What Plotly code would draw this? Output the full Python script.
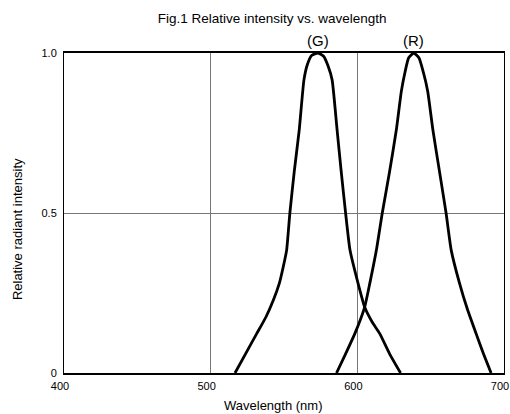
import plotly.graph_objects as go

# Curva (G)
g_wavelength = [516.6, 525, 531.4, 537.7, 542.7, 546.8, 549.5, 551.8, 554, 557, 560.4, 563.6,
                566, 569, 573, 577, 580, 582.8, 586.2, 589, 592, 595, 600.5, 605, 610, 615.3,
                622, 629.5]
g_intensity = [0, 0.07, 0.123, 0.175, 0.227, 0.28, 0.332, 0.384, 0.50, 0.63, 0.76, 0.916,
               0.965, 0.993, 1.0, 0.99, 0.96, 0.916, 0.76, 0.63, 0.50, 0.384, 0.28, 0.206, 0.16,
               0.123, 0.06, 0]

# Curva (R)
r_wavelength = [585.8, 592, 598.3, 605, 608.5, 613, 617, 622, 626.6, 630, 632.5, 635, 638.5,
                642, 645, 648, 651.5, 656, 660.5, 664, 669.7, 675, 681, 686, 691.2]
r_intensity = [0, 0.06, 0.123, 0.206, 0.28, 0.384, 0.50, 0.63, 0.76, 0.88, 0.94, 0.985, 1.0,
               0.985, 0.94, 0.88, 0.76, 0.63, 0.50, 0.384, 0.28, 0.20, 0.123, 0.06, 0]

x_ticks = [400, 500, 600, 700]
y_ticks = [0, 0.5, 1.0]
y_tick_labels = ['0', '0.5', '1.0']

FONT = 'Liberation Sans, Arial, sans-serif'

fig = go.Figure()
for wl, inten in [(g_wavelength, g_intensity), (r_wavelength, r_intensity)]:
    fig.add_trace(go.Scatter(x=wl, y=inten, mode='lines',
                             line=dict(color='black', width=2.8, shape='spline', smoothing=0.5),
                             showlegend=False, hoverinfo='skip'))

# Etiquetas de curvas
fig.add_annotation(x=573, y=1.0, text='(G)', showarrow=False, yanchor='middle', yshift=13,
                   font=dict(size=15, color='black'))
fig.add_annotation(x=638.5, y=1.0, text='(R)', showarrow=False, yanchor='middle', yshift=13,
                   font=dict(size=15, color='black'))

# Títulos de ejes
fig.add_annotation(xref='paper', yref='paper', x=0.475, y=-0.101, text='Wavelength (nm)',
                   showarrow=False, xanchor='center', yanchor='middle',
                   font=dict(size=13, color='black'))
fig.add_annotation(xref='paper', yref='paper', x=-0.105, y=0.449, text='Relative radiant intensity',
                   showarrow=False, textangle=-90, xanchor='center', yanchor='middle',
                   font=dict(size=13, color='black'))

fig.update_layout(
    width=510, height=414,
    margin=dict(l=64, r=6, t=53, b=41, autoexpand=False),
    paper_bgcolor='white', plot_bgcolor='white',
    font=dict(family=FONT, size=11, color='black'),
    title=dict(text='Fig.1 Relative intensity vs. wavelength', xref='paper', x=0.473,
               xanchor='center', y=1 - 18 / 414, yanchor='middle',
               font=dict(size=13.5, color='black')),
)
fig.update_xaxes(range=[400, 700], tickvals=x_ticks, ticks='', showgrid=True,
                 gridcolor='#777777', gridwidth=1, zeroline=False, automargin=False,
                 showline=True, linecolor='black', linewidth=1.5, mirror=True,
                 ticklabelshift=-4, ticklabelstandoff=2, ticklabeloverflow='allow',
                 tickfont=dict(size=11))
fig.update_yaxes(range=[0, 1.0], tickvals=y_ticks, ticktext=y_tick_labels, ticks='',
                 showgrid=True, gridcolor='#777777', gridwidth=1, zeroline=False,
                 automargin=False, showline=True, linecolor='black', linewidth=1, mirror=True,
                 ticklabelstandoff=4, tickfont=dict(size=11))

# quitar el margen por defecto del body para que la figura llene la ventana
fig.write_html('out.html', config={'displayModeBar': False},
               post_script="document.body.style.margin='0';")
